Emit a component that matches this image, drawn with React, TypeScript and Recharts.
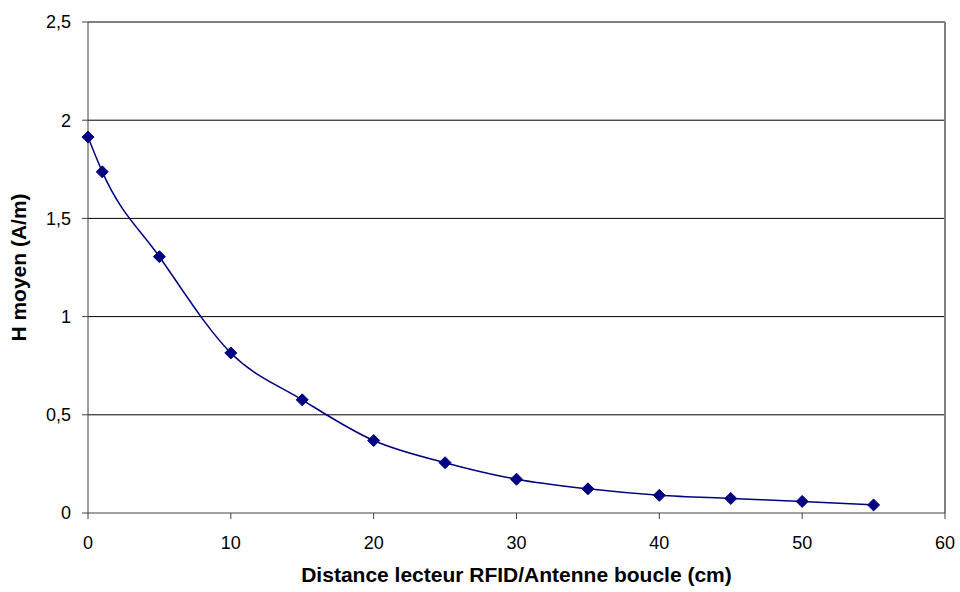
import { LineChart, Line, XAxis, YAxis, CartesianGrid, ReferenceLine, Label } from "recharts";

const distances = [0, 1, 5, 10, 15, 20, 25, 30, 35, 40, 45, 50, 55];
const hMoyen = [1.914, 1.737, 1.305, 0.815, 0.576, 0.369, 0.256, 0.172, 0.123, 0.09, 0.074, 0.059, 0.041];
const xTicks = [0, 10, 20, 30, 40, 50, 60];
const yTicks = [0, 0.5, 1, 1.5, 2, 2.5];

const data = distances.map((d, i) => ({ d, h: hMoyen[i] }));

const font = "'Liberation Sans', Arial, sans-serif";

function Diamond(props: any) {
  const { cx, cy } = props;
  if (cx == null || cy == null) return null;
  const r = 6;
  return (
    <path
      d={`M${cx},${cy - r}L${cx + r},${cy}L${cx},${cy + r}L${cx - r},${cy}Z`}
      fill="#000080"
      stroke="#000080"
    />
  );
}

export default function App() {
  return (
    <div style={{ position: "absolute", left: 0, top: 0, background: "#fff" }}>
      <LineChart
        width={960}
        height={592}
        data={data}
        margin={{ top: 22, right: 15, left: 28, bottom: 39 }}
      >
        <CartesianGrid
          vertical={false}
          horizontalValues={[0.5, 1, 1.5, 2]}
          stroke="#000"
          strokeWidth={1}
        />
        <ReferenceLine y={2.5} stroke="#808080" strokeWidth={2} />
        <ReferenceLine x={60} stroke="#808080" strokeWidth={2} />
        <XAxis
          dataKey="d"
          type="number"
          domain={[0, 60]}
          ticks={xTicks}
          stroke="#404040"
          tickSize={6}
          tick={{ fill: "#000", fontSize: 18, fontFamily: font }}
          tickMargin={17}
          height={40}
        >
          <Label
            value="Distance lecteur RFID/Antenne boucle (cm)"
            position="bottom"
            offset={14}
            style={{ fill: "#000", fontSize: 21, fontWeight: "bold", fontFamily: font }}
          />
        </XAxis>
        <YAxis
          type="number"
          domain={[0, 2.5]}
          ticks={yTicks}
          stroke="#404040"
          tickSize={6}
          width={60}
          tickFormatter={(v: number) => String(v).replace(".", ",")}
          tick={{ fill: "#000", fontSize: 18, fontFamily: font }}
          tickMargin={11}
        >
          <Label
            value="H moyen (A/m)"
            angle={-90}
            position="insideLeft"
            offset={-9}
            style={{ fill: "#000", fontSize: 21, fontWeight: "bold", fontFamily: font, textAnchor: "middle" }}
          />
        </YAxis>
        <Line
          type="monotone"
          dataKey="h"
          stroke="#000080"
          strokeWidth={1.5}
          dot={<Diamond />}
          activeDot={false}
          isAnimationActive={false}
        />
      </LineChart>
    </div>
  );
}
